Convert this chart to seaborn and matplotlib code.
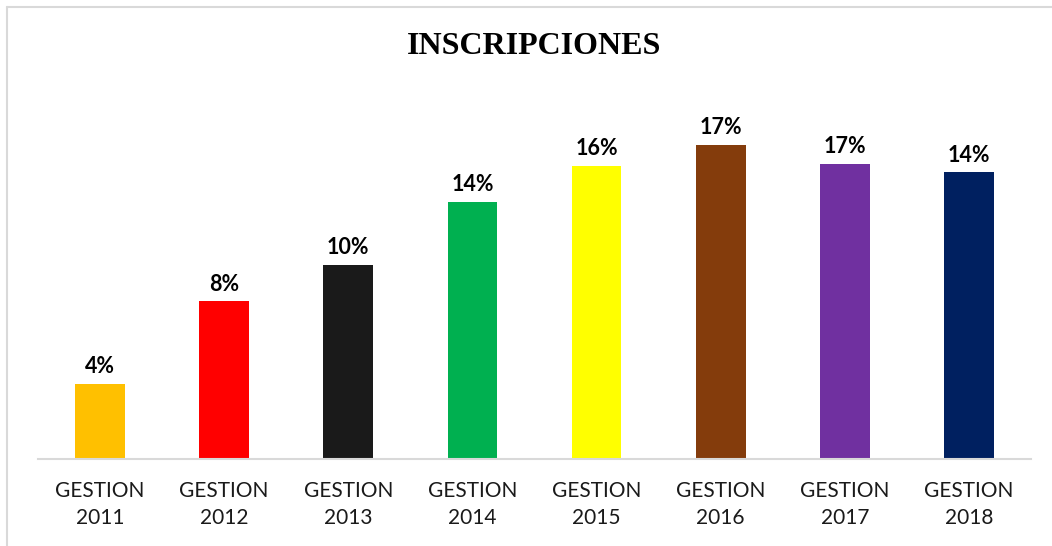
import matplotlib
matplotlib.use("Agg")
import matplotlib.pyplot as plt
from matplotlib.lines import Line2D
import seaborn as sns
import pandas as pd

categories = ["GESTION\n2011", "GESTION\n2012", "GESTION\n2013", "GESTION\n2014",
              "GESTION\n2015", "GESTION\n2016", "GESTION\n2017", "GESTION\n2018"]
values = [3.96, 8.29, 10.19, 13.53, 15.44, 16.54, 15.54, 15.08]
labels = ["4%", "8%", "10%", "14%", "16%", "17%", "17%", "14%"]
colors = ["#FFC000", "#FF0000", "#1A1A1A", "#00B050", "#FFFF00", "#843C0C", "#7030A0", "#002060"]
title = "INSCRIPCIONES"

sns.set_theme(style="white")
plt.rcParams["font.family"] = ["Lato", "DejaVu Sans"]

df = pd.DataFrame({"cat": categories, "val": values})

fig = plt.figure(figsize=(10.52, 5.46), dpi=100)
ax = fig.add_axes([38 / 1052, 1 - 459 / 546, (1031 - 38) / 1052, (459 - 110) / 546])

sns.barplot(data=df, x="cat", y="val", hue="cat", palette=colors, legend=False,
            width=0.4, ax=ax, saturation=1, linewidth=0)

ax.set_ylim(0, 349 / 19)
ax.set_xlim(-0.5, len(categories) - 0.5)
ax.set_xlabel("")
ax.set_ylabel("")
ax.set_yticks([])
for s in ["left", "right", "top"]:
    ax.spines[s].set_visible(False)
ax.spines["bottom"].set_color("#D9D9D9")
ax.spines["bottom"].set_linewidth(1.5)
ax.tick_params(axis="x", length=0, pad=16, labelsize=15, labelcolor="#1A1A1A")
for t in ax.get_xticklabels():
    t.set_linespacing(1.45)

for i, (v, lab) in enumerate(zip(values, labels)):
    ax.annotate(lab, (i, v), xytext=(0, 5), textcoords="offset points",
                ha="center", va="bottom", fontsize=15.5, fontweight="bold", color="#000000")

fig.text(534 / 1052, 1 - 47 / 546, title, ha="center", va="center",
         fontsize=23, fontweight="bold", family="Liberation Serif", color="#000000")

fig.add_artist(Line2D([7 / 1052, 7 / 1052], [0, 1 - 7 / 546], transform=fig.transFigure,
                      color="#D9D9D9", linewidth=1.5))
fig.add_artist(Line2D([7 / 1052, 1], [1 - 7 / 546, 1 - 7 / 546], transform=fig.transFigure,
                      color="#D9D9D9", linewidth=1.5))

fig.savefig("out.png", dpi=100, facecolor="white")
